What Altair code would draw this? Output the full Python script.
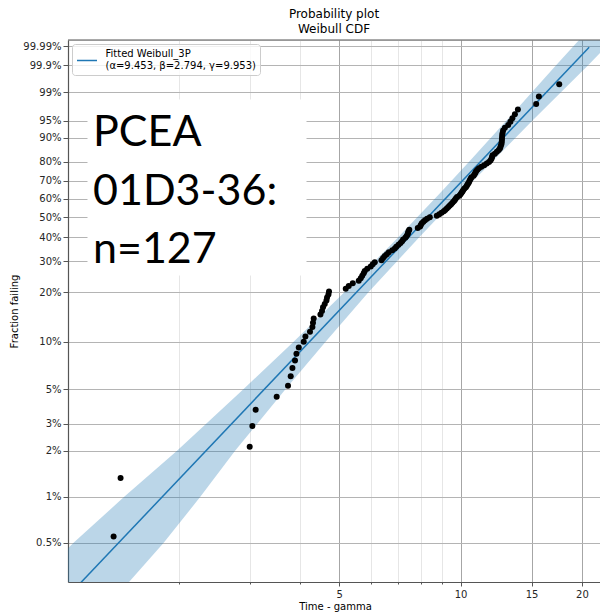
import numpy as np
import pandas as pd
import altair as alt

# ---------------- data ----------------
# failure times (time - gamma) of the plotted points, in rank order
time_minus_gamma = [
    1.380, 1.436, 3.001, 3.047, 3.105, 3.501, 3.735, 3.793, 3.830, 3.887,
    3.919, 3.971, 4.085, 4.125, 4.234, 4.293, 4.307, 4.325, 4.494, 4.535,
    4.561, 4.606, 4.651, 4.667, 4.704, 4.720, 5.193, 5.283, 5.405, 5.593,
    5.657, 5.706, 5.754, 5.788, 5.871, 5.990, 6.059, 6.129, 6.368, 6.427,
    6.490, 6.564, 6.640, 6.774, 6.871, 6.930, 7.018, 7.098, 7.163, 7.208,
    7.295, 7.345, 7.388, 7.413, 7.430, 7.464, 7.834, 7.939, 7.970, 8.017,
    8.089, 8.164, 8.262, 8.391, 8.733, 8.859, 8.972, 9.091, 9.163, 9.247,
    9.327, 9.407, 9.478, 9.549, 9.625, 9.681, 9.735, 9.802, 9.931, 10.000,
    10.058, 10.109, 10.161, 10.226, 10.308, 10.366, 10.414, 10.469, 10.510, 10.552,
    10.601, 10.650, 10.773, 10.833, 10.884, 10.929, 11.010, 11.104, 11.264, 11.447,
    11.615, 11.763, 11.864, 11.932, 11.974, 12.007, 12.166, 12.306, 12.440, 12.532,
    12.575, 12.625, 12.648, 12.662, 12.669, 12.684, 12.707, 12.751, 12.881, 13.127,
    13.294, 13.445, 13.638, 13.875, 15.400, 15.640, 17.566,
]
# fraction failing of each point (%)
fraction_failing_pct = [
    0.55, 1.33, 2.12, 2.90, 3.69, 4.47, 5.26, 6.04, 6.83, 7.61,
    8.40, 9.18, 9.97, 10.75, 11.54, 12.32, 13.11, 13.89, 14.68, 15.46,
    16.25, 17.03, 17.82, 18.60, 19.39, 20.17, 20.96, 21.74, 22.53, 23.31,
    24.10, 24.88, 25.67, 26.45, 27.24, 28.02, 28.81, 29.59, 30.38, 31.16,
    31.95, 32.73, 33.52, 34.30, 35.09, 35.87, 36.66, 37.44, 38.23, 39.01,
    39.80, 40.58, 41.37, 42.15, 42.94, 43.72, 44.51, 45.29, 46.08, 46.86,
    47.65, 48.43, 49.22, 50.00, 50.78, 51.57, 52.35, 53.14, 53.92, 54.71,
    55.49, 56.28, 57.06, 57.85, 58.63, 59.42, 60.20, 60.99, 61.77, 62.56,
    63.34, 64.13, 64.91, 65.70, 66.48, 67.27, 68.05, 68.84, 69.62, 70.41,
    71.19, 71.98, 72.76, 73.55, 74.33, 75.12, 75.90, 76.69, 77.47, 78.26,
    79.04, 79.83, 80.61, 81.40, 82.18, 82.97, 83.75, 84.54, 85.32, 86.11,
    86.89, 87.68, 88.46, 89.25, 90.03, 90.82, 91.60, 92.39, 93.17, 93.96,
    94.74, 95.53, 96.31, 97.10, 97.88, 98.67, 99.45,
]

# confidence band (time bounds at given fraction failing, %)
band_pct = [0.2, 0.5, 1, 2, 5, 10, 20, 40, 63.2, 80, 95, 99, 99.9, 99.998]
band_lower = [0.773, 1.098, 1.466, 1.982, 2.895, 3.856, 5.160, 6.998, 8.902, 10.50, 13.00, 15.03, 17.23, 20.11]
band_upper = [1.353, 1.837, 2.264, 2.761, 3.681, 4.629, 5.919, 7.890, 10.04, 11.97, 15.08, 17.74, 20.69, 24.42]

# fitted Weibull 3P model
alpha, beta, gamma = 9.453, 2.794, 9.953
line_time = [1.0, 20.84]

y_tick_pct = [0.5, 1, 2, 3, 5, 10, 20, 30, 40, 50, 60, 70, 80, 90, 95, 99, 99.9, 99.99]
x_tick_vals = [2, 3, 4, 5, 6, 7, 8, 9, 10, 15, 20]
x_major = [5, 10, 15, 20]

# ---------------- transforms (Weibull probability scale) ----------------
def weib(p):
    p = np.asarray(p, dtype=float) / 100.0
    return np.log(-np.log(1.0 - p))

pts = pd.DataFrame({"t": time_minus_gamma, "F": fraction_failing_pct})
pts["v"] = weib(pts["F"])

band = pd.DataFrame({"F": band_pct, "lo": band_lower, "hi": band_upper})
band["v"] = weib(band["F"])

line = pd.DataFrame({"t": line_time})
line["v"] = beta * (np.log(line["t"]) - np.log(alpha))

W, H = 532, 542
xscale = alt.Scale(type="log", domain=[1.0637, 22.17], nice=False)
yscale = alt.Scale(domain=[-5.890, 2.318], nice=False, zero=False)

is_major = "indexof([5, 10, 15, 20], datum.value) >= 0"
xaxis = alt.Axis(
    values=x_tick_vals,
    labelExpr=f"{is_major} ? format(datum.value, 'd') : ''",
    title="Time - gamma",
    grid=True,
    gridColor={"condition": {"test": is_major, "value": "#a6a6a6"}, "value": "#e6e6e6"},
    gridWidth=1,
    tickSize={"condition": {"test": is_major, "value": 4}, "value": 2},
    tickColor="#555555",
    labelFontSize=10,
    labelColor="#262626",
    labelPadding=3,
    labelFont="DejaVu Sans",
    titleFont="DejaVu Sans",
    titleFontSize=10,
    titleFontWeight="normal",
    titleColor="#000000",
    titleX=W / 2 + 1,
    titleY=27,
    titleBaseline="alphabetic",
    domainColor="#555555",
    domainWidth=1.2,
)
yaxis = alt.Axis(
    values=list(weib(y_tick_pct)),
    labelExpr="format((1 - exp(-exp(datum.value))) * 100, '.4~g') + '%'",
    title="Fraction failing",
    grid=True,
    gridColor="#b4b4b4",
    gridWidth=1,
    tickSize=5,
    tickColor="#555555",
    labelFontSize=10,
    labelColor="#262626",
    labelPadding=2,
    labelFont="DejaVu Sans",
    titleFont="DejaVu Sans",
    titleFontSize=10,
    titleFontWeight="normal",
    titleColor="#000000",
    titleAngle=270,
    titleX=-51,
    titleY=H / 2,
    titleAlign="center",
    titleBaseline="alphabetic",
    domainColor="#555555",
    domainWidth=1.2,
)

X = lambda f: alt.X(f, scale=xscale, axis=xaxis)
Y = lambda f: alt.Y(f, scale=yscale, axis=yaxis)

band_layer = alt.Chart(band).mark_area(
    orient="horizontal", color="#1f77b4", opacity=0.3, clip=True
).encode(y=Y("v:Q"), x=X("lo:Q"), x2="hi:Q")

line_layer = alt.Chart(line).mark_line(
    color="#1f77b4", strokeWidth=1.5, clip=True
).encode(x=X("t:Q"), y=Y("v:Q"))

pts_layer = alt.Chart(pts).mark_circle(
    color="#000000", size=36, opacity=1
).encode(x=X("t:Q"), y=Y("v:Q"))

one = pd.DataFrame({"k": [0]})

top_spine = alt.Chart(one).mark_rule(color="#555555", strokeWidth=1.2).encode(
    x=alt.value(0), x2=alt.value(W), y=alt.value(0)
)

legend_box = alt.Chart(one).mark_rect(
    fill="white", fillOpacity=0.8, stroke="#cccccc", strokeWidth=1, cornerRadius=3
).encode(x=alt.value(4.5), x2=alt.value(192.5), y=alt.value(4.5), y2=alt.value(35.5))
legend_line = alt.Chart(one).mark_rule(color="#1f77b4", strokeWidth=1.5).encode(
    x=alt.value(9), x2=alt.value(29), y=alt.value(20.5)
)
legend_t1 = alt.Chart(one).mark_text(
    text="Fitted Weibull_3P", align="left", baseline="middle", fontSize=10, font="DejaVu Sans", color="#000000"
).encode(x=alt.value(37.5), y=alt.value(14))
legend_t2 = alt.Chart(one).mark_text(
    text="(α=9.453, β=2.794, γ=9.953)", align="left", baseline="middle", fontSize=10, font="DejaVu Sans", color="#000000"
).encode(x=alt.value(37.5), y=alt.value(26))

white_box = alt.Chart(one).mark_rect(fill="white").encode(
    x=alt.value(19.5), x2=alt.value(238.5), y=alt.value(59.5), y2=alt.value(235.5)
)
big_lines = ["PCEA", "01D3-36:", "n=127"]
big_baselines = [106, 165, 223]
big_layers = [
    alt.Chart(one).mark_text(
        text=s, align="left", baseline="alphabetic", fontSize=43, font="Lato", color="#000000"
    ).encode(x=alt.value(25), y=alt.value(b))
    for s, b in zip(big_lines, big_baselines)
]

chart = alt.layer(
    band_layer, line_layer, pts_layer, top_spine,
    legend_box, legend_line, legend_t1, legend_t2,
    white_box, *big_layers,
).properties(
    width=W,
    height=H,
    title=alt.TitleParams(
        text=["Probability plot", "Weibull CDF"],
        fontSize=12,
        font="DejaVu Sans",
        fontWeight="normal",
        color="#000000",
        anchor="middle",
        lineHeight=15.5,
        offset=3,
    ),
    autosize=alt.AutoSizeParams(type="none"),
    padding={"left": 68, "top": 40, "right": 0, "bottom": 31},
).configure_view(stroke=None).configure(background="white")

chart.save("out.html", embed_options={"renderer": "svg", "actions": False})
